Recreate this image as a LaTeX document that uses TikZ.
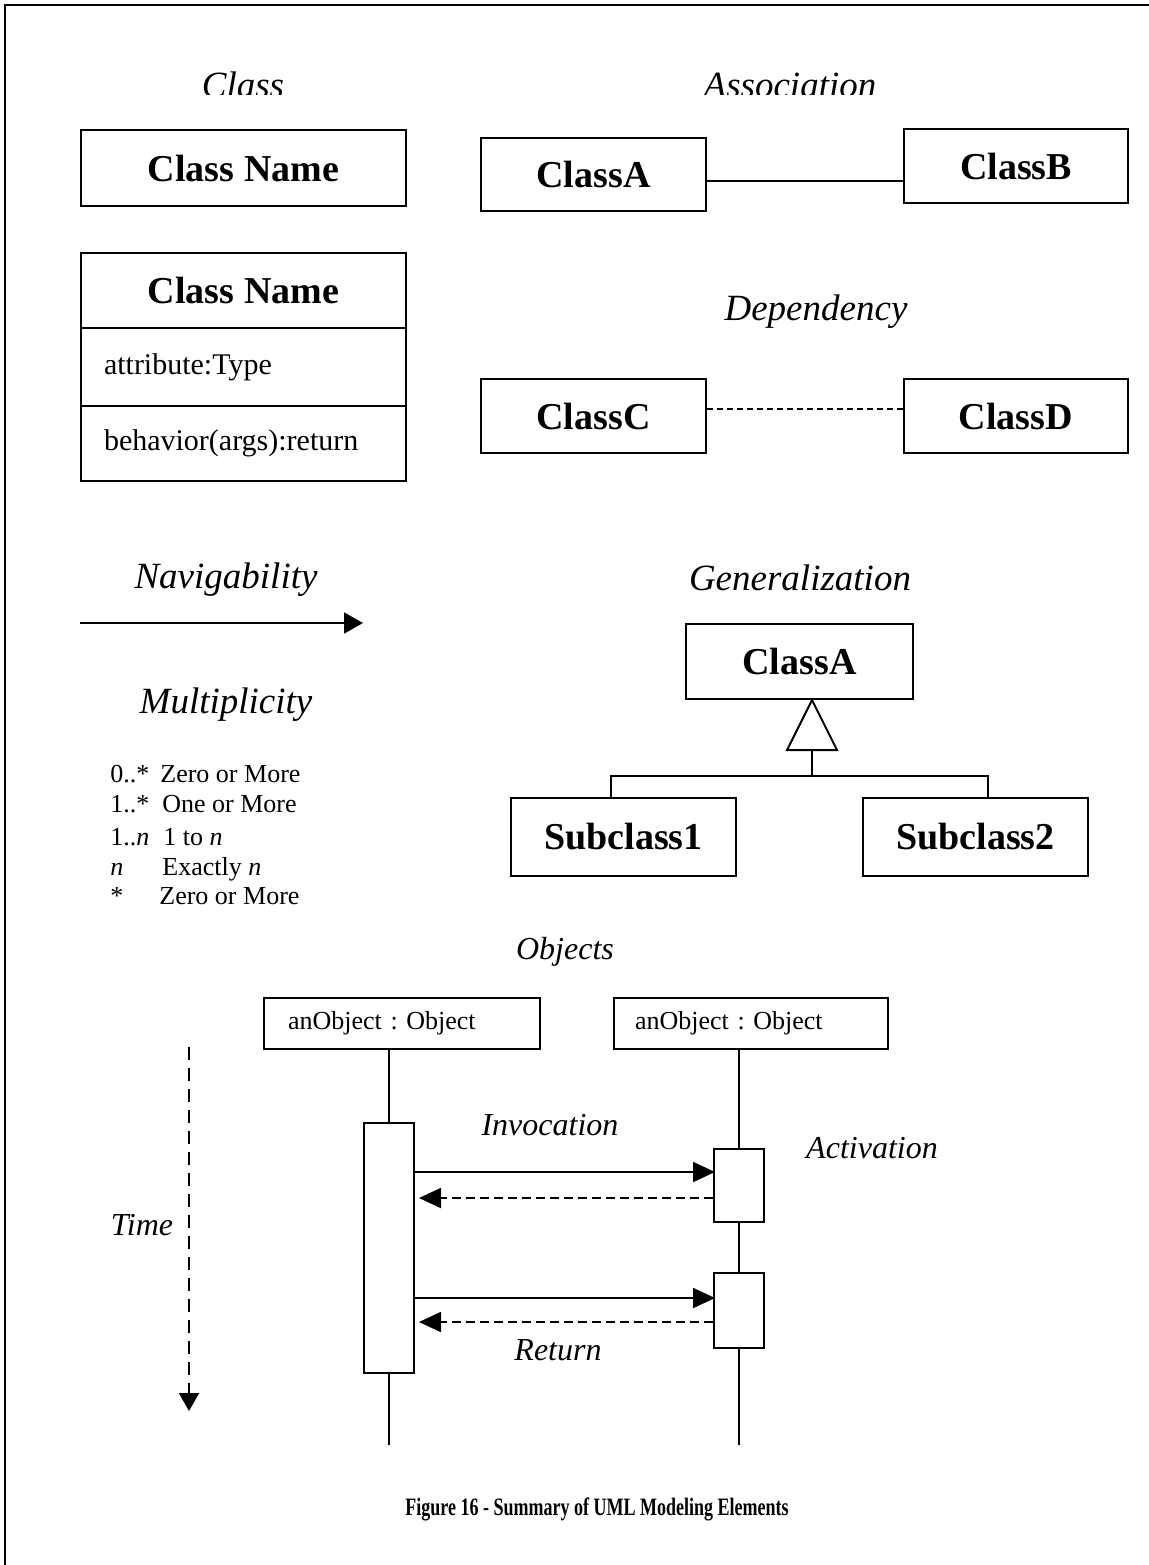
\documentclass[tikz,border=0pt]{standalone}
\usepackage{fontspec}
\setmainfont{Liberation Serif}
\usetikzlibrary{arrows.meta,calc}
\frenchspacing
\begin{document}
\begin{tikzpicture}[x=0.5pt,y=-0.5pt,
  thin line/.style={line width=1pt},
  box/.style={draw,line width=1pt,inner sep=0pt,anchor=north west},
  clsname/.style={font=\fontsize{19}{22}\selectfont\bfseries},
  title/.style={font=\fontsize{18.5}{22}\selectfont\itshape},
  smalltitle/.style={font=\fontsize{16}{19}\selectfont\itshape},
  compart/.style={box,align=left,inner xsep=11.5pt,text width=139.5pt,
                  font=\fontsize{15}{18}\selectfont},
  objbox/.style={box,align=left,font=\fontsize{13}{16}\selectfont},
  mult/.style={anchor=base west,inner sep=0pt,font=\fontsize{13}{16}\selectfont},
  tip/.style={-{Triangle[length=11pt,width=10pt]}},
  retmsg/.style={line width=1pt,dash pattern=on 4.5pt off 2.5pt,
                 -{Triangle[length=11pt,width=10pt]}},
]
\useasboundingbox (0,0) rectangle (1149,1565);

% page frame
\draw[line width=1.3pt] (5,1565) -- (5,5) -- (1149,5);

% ---------- Class ----------
\begin{scope}
  \clip (0,0) rectangle (1149,94);
  \node[title,anchor=base] (tClass) at (243,97) {Class};
  \node[title,anchor=base] (tAssoc) at (790,97) {Association};
\end{scope}

\node[box,clsname,minimum width=162.5pt,minimum height=38pt] (cls1) at (80,129) {Class Name};

\node[box,clsname,minimum width=162.5pt,minimum height=37.5pt] (cls2) at (80,252) {Class Name};
\node[compart,minimum height=39pt] (cls2a) at (80,327) {attribute:Type};
\node[compart,minimum height=37.5pt] (cls2b) at (80,405) {behavior(args):return};

% ---------- Association ----------
\node[box,clsname,minimum width=112.5pt,minimum height=36.5pt] (asA) at (480,137) {ClassA};
\node[box,clsname,minimum width=112pt,minimum height=37pt] (asB) at (903,128) {ClassB};
\path (asA.east) ++(0,6.5) coordinate (asL);
\draw[thin line] (asL) -- (asL -| asB.west);

% ---------- Dependency ----------
\node[title] (tDep) at (816,312) {Dependency};
\node[box,clsname,minimum width=112.5pt,minimum height=37pt] (dpC) at (480,378) {ClassC};
\node[box,clsname,minimum width=112pt,minimum height=37pt] (dpD) at (903,378) {ClassD};
\path (dpC.east) ++(0,-7) coordinate (dpL);
\draw[thin line,dash pattern=on 3pt off 2pt] (dpL) -- (dpL -| dpD.west);

% ---------- Navigability ----------
\node[title] (tNav) at (226,580) {Navigability};
\coordinate (navS) at (80,623);
\coordinate (navE) at (363,623);
\draw[thin line,-{Triangle[length=9.5pt,width=10.5pt]}] (navS) -- (navE);

% ---------- Multiplicity ----------
\node[title] (tMult) at (226,705) {Multiplicity};
\node[mult] (m1a) at (110,782) {0..*};
\node[mult] (m1b) at (160,782) {Zero or More};
\node[mult] (m2a) at (110,812) {1..*};
\node[mult] (m2b) at (162,812) {One or More};
\node[mult] (m3a) at (110,845) {1..\textit{n}};
\node[mult] (m3b) at (163,845) {1 to \textit{n}};
\node[mult] (m4a) at (110,875) {\textit{n}};
\node[mult] (m4b) at (162,875) {Exactly \textit{n}};
\node[mult] (m5a) at (110,904) {*};
\node[mult] (m5b) at (159,904) {Zero or More};

% ---------- Generalization ----------
\node[title] (tGen) at (800,578) {Generalization};
\node[box,clsname,minimum width=113.5pt,minimum height=37.5pt] (gA) at (685,623) {ClassA};
\node[box,clsname,minimum width=112.5pt,minimum height=39pt] (gS1) at (510,797) {Subclass1};
\node[box,clsname,minimum width=112.5pt,minimum height=39pt] (gS2) at (862,797) {Subclass2};
\coordinate (apex) at ($(gA.south)+(12.5,0)$);
\draw[thin line] (apex) -- ++(-25,50) -- ++(50,0) -- cycle;
\draw[thin line] (apex) ++(0,50) -- ++(0,26) coordinate (gJ);
\draw[thin line] ([xshift=-6.25pt]gS1.north) |- (gJ) -| ([xshift=6.25pt]gS2.north);

% ---------- Objects ----------
\node[smalltitle] (tObj) at (565,952) {Objects};
\node[objbox,minimum width=138pt,minimum height=25.5pt,inner xsep=12pt,text width=114pt] (o1) at (263,997) {anObject : Object};
\node[objbox,minimum width=137pt,minimum height=25.5pt,inner xsep=10.5pt,text width=116pt] (o2) at (613,997) {anObject : Object};

% activations
\node[box,minimum width=25pt,minimum height=125pt] (act0) at (363,1122) {};
\node[box,minimum width=25pt,minimum height=36.5pt] (act1) at (713,1148) {};
\node[box,minimum width=25pt,minimum height=37.5pt] (act2) at (713,1272) {};

% lifelines
\coordinate (lifeEnd) at (0,1445);
\draw[thin line] (o1.south -| act0.north) -- (act0.north);
\draw[thin line] (act0.south) -- (act0.south |- lifeEnd);
\draw[thin line] (o2.south -| act1.north) -- (act1.north);
\draw[thin line] (act1.south) -- (act2.north);
\draw[thin line] (act2.south) -- (act2.south |- lifeEnd);

% messages
\coordinate (y1) at (0,1172);
\coordinate (y2) at (0,1198);
\coordinate (y3) at (0,1298);
\coordinate (y4) at (0,1322);
\draw[thin line,tip,shorten >=-1pt] (act0.east |- y1) -- (act1.west |- y1);
\draw[retmsg,shorten >=2pt] (act1.west |- y2) -- (act0.east |- y2);
\draw[thin line,tip,shorten >=-1pt] (act0.east |- y3) -- (act2.west |- y3);
\draw[retmsg,shorten >=2pt] (act2.west |- y4) -- (act0.east |- y4);

\node[smalltitle] (tInv) at (550,1125) {Invocation};
\node[smalltitle] (tAct) at (872,1148) {Activation};
\node[smalltitle] (tRet) at (558,1350) {Return};

% time axis
\node[smalltitle] (tTime) at (142,1225) {Time};
\coordinate (time0) at (189,1047);
\coordinate (time1) at (189,1411);
\draw[thin line,dash pattern=on 6.5pt off 4pt,-{Triangle[length=9pt,width=10pt]}] (time0) -- (time1);

% caption
\node[font=\fontsize{12.5}{15}\selectfont\bfseries,xscale=0.72] (cap) at (597,1509)
  {Figure 16 - Summary of UML Modeling Elements};
\end{tikzpicture}
\end{document}
